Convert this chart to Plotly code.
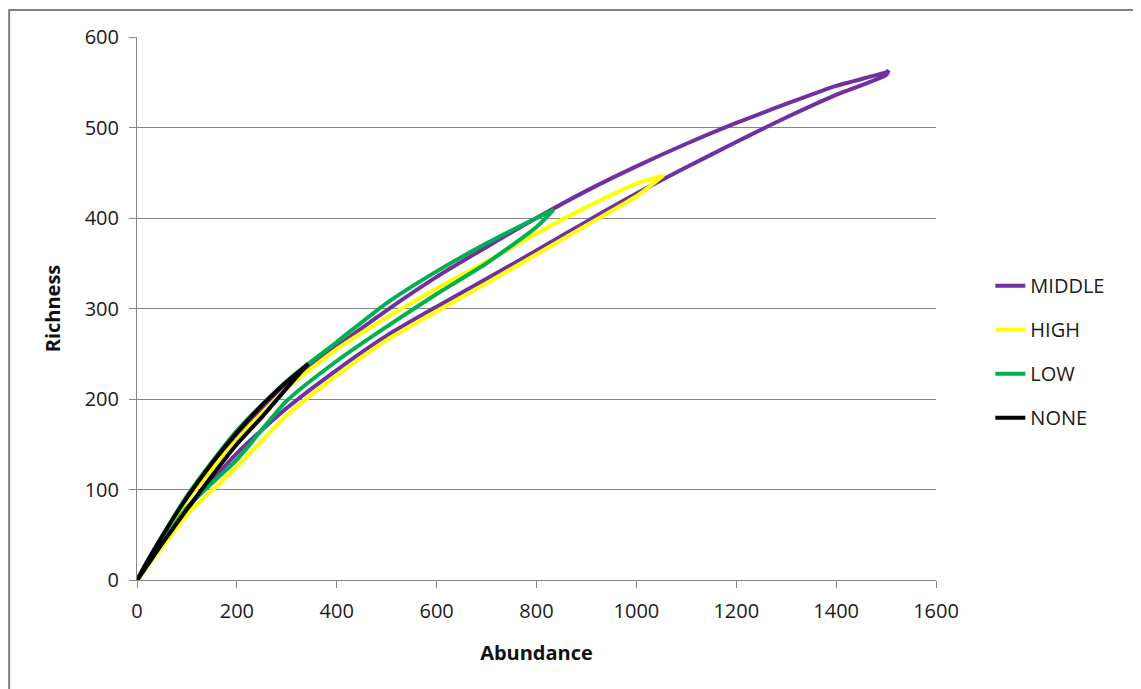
import plotly.graph_objects as go

# ---- data ----
series_names = ["MIDDLE", "HIGH", "LOW", "NONE"]
colors = ["#7030A0", "#FFFF00", "#00B050", "#000000"]

middle_x = [0, 100, 200, 300, 400, 500, 600, 700, 800, 900, 1000, 1100, 1200, 1300, 1400, 1500, 1505]
middle_upper = [0, 90, 160, 215, 258, 298, 335, 368, 400, 430, 457, 482, 505, 526, 546, 561, 563]
middle_lower = [0, 78, 140, 190, 232, 270, 302, 333, 364, 396, 427, 456, 484, 511, 536, 558, 563]

high_x = [0, 100, 200, 300, 400, 500, 600, 700, 800, 900, 1000, 1054]
high_upper = [0, 88, 155, 212, 255, 290, 322, 352, 383, 412, 438, 447]
high_lower = [0, 72, 125, 182, 226, 265, 297, 328, 360, 392, 424, 447]

low_x = [0, 100, 200, 300, 400, 500, 600, 700, 800, 834]
low_upper = [0, 93, 165, 220, 263, 306, 341, 372, 400, 409]
low_lower = [0, 80, 133, 198, 242, 280, 316, 350, 390, 409]

none_x = [0, 50, 100, 150, 200, 250, 300, 343]
none_upper = [0, 48, 91, 129, 163, 193, 219, 239]
none_lower = [0, 40, 78, 115, 150, 180, 212, 239]

x_ticks = [0, 200, 400, 600, 800, 1000, 1200, 1400, 1600]
y_ticks = [0, 100, 200, 300, 400, 500, 600]

series = [
    (middle_x, middle_upper, middle_lower),
    (high_x, high_upper, high_lower),
    (low_x, low_upper, low_lower),
    (none_x, none_upper, none_lower),
]

fig = go.Figure()
for name, col, (xs, up, lo) in zip(series_names, colors, series):
    loop_x = list(xs) + list(reversed(xs))
    loop_y = list(up) + list(reversed(lo))
    fig.add_trace(go.Scatter(
        x=loop_x, y=loop_y, mode="lines", name=name,
        line=dict(color=col, width=4, shape="spline", smoothing=0.6),
        legendgroup=name,
    ))

FONT = "'Open Sans', sans-serif"
axis_col = "#868686"
txt_col = "#1a1a1a"

fig.update_layout(
    width=1141, height=689,
    paper_bgcolor="white", plot_bgcolor="white",
    margin=dict(l=129, r=213, t=29, b=117),
    font=dict(family=FONT, size=20, color=txt_col),
    showlegend=True,
    legend=dict(
        x=1.068, y=0.578, xanchor="left", yanchor="top",
        font=dict(family=FONT, size=20, color=txt_col),
        tracegroupgap=15, bgcolor="rgba(0,0,0,0)",
    ),
    xaxis=dict(
        range=[0, 1600], tickvals=x_ticks, ticktext=[str(v) for v in x_ticks],
        showgrid=False, zeroline=False, showline=True, linecolor=axis_col, linewidth=1,
        ticks="outside", ticklen=7, tickcolor=axis_col, ticklabelstandoff=6,
        tickfont=dict(family=FONT, size=20, color=txt_col),
        title=dict(text="<b>Abundance</b>", font=dict(family=FONT, size=20, color="#111111"), standoff=22),
    ),
    yaxis=dict(
        range=[0, 600], tickvals=y_ticks, ticktext=[str(v) for v in y_ticks],
        showgrid=True, gridcolor=axis_col, gridwidth=1, zeroline=False,
        showline=True, linecolor=axis_col, linewidth=1,
        ticks="outside", ticklen=7, tickcolor=axis_col, ticklabelstandoff=6,
        tickfont=dict(family=FONT, size=20, color=txt_col),
        title=dict(text="<b>Richness</b>", font=dict(family=FONT, size=20, color="#111111"), standoff=18),
    ),
    shapes=[dict(
        type="rect", xref="paper", yref="paper",
        x0=-0.160, x1=1.35, y0=-0.35, y1=1.0497,
        line=dict(color="#808080", width=2), fillcolor="rgba(0,0,0,0)", layer="below",
    )],
)

fig.write_html("out.html")
